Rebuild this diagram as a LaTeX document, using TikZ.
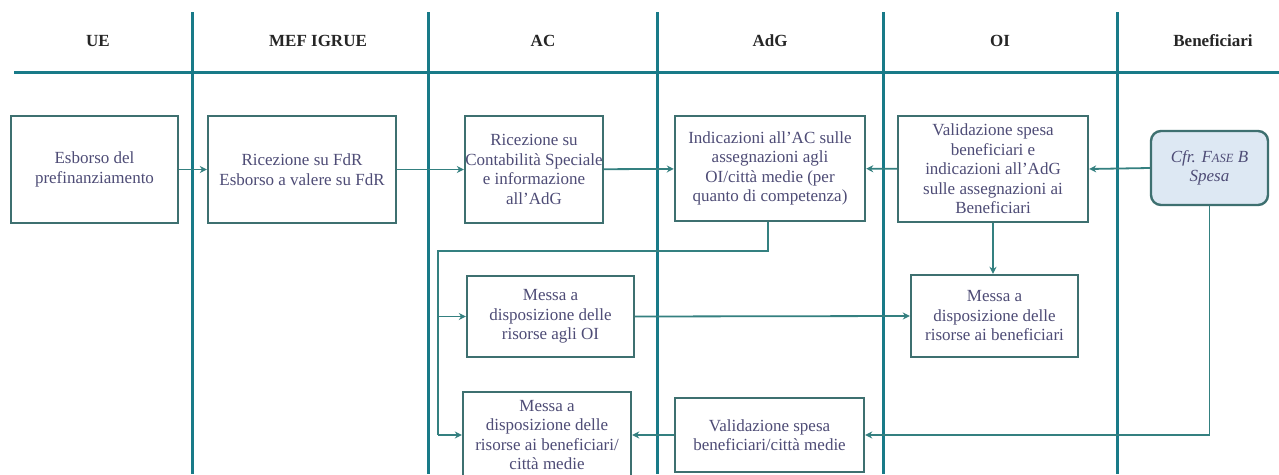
\documentclass[tikz,border=0pt]{standalone}
\usepackage{fontspec}
\setmainfont{LiberationSerif}[Extension=.ttf, UprightFont=*-Regular,
  BoldFont=*-Bold, ItalicFont=*-Italic, BoldItalicFont=*-BoldItalic]
\usetikzlibrary{arrows.meta}

\definecolor{lane}{RGB}{24,122,136}
\definecolor{boxline}{RGB}{62,112,112}
\definecolor{wire}{RGB}{52,128,128}
\definecolor{ink}{RGB}{78,76,118}
\definecolor{refill}{RGB}{221,232,243}

\tikzset{
  lanerule/.style={draw=lane, line width=3pt},
  lanehead/.style={font=\fontsize{17}{20}\selectfont\bfseries, text=black!85},
  task/.style={draw=boxline, line width=2.4pt, fill=white, text=ink,
    align=center, inner sep=0pt, font=\fontsize{17}{19.5}\selectfont},
  ref/.style={task, fill=refill, rounded corners=10pt},
  flow/.style={draw=wire, line width=1.8pt,
    -{Stealth[length=7pt,width=7pt]}},
  plain/.style={draw=wire, line width=1.8pt}
}

\begin{document}
\begin{tikzpicture}[x=1pt,y=-1pt]
\useasboundingbox (0,0) rectangle (1279,474);
\clip (0,0) rectangle (1279,474);
\fill[white] (0,0) rectangle (1279,474);

% swimlane headings and rules
\draw[lanerule] (14,72) -- (1279,72);
\foreach \lx in {192,428,657,883,1117}
  \draw[lanerule] (\lx,12) -- (\lx,474);

\node[lanehead] (hUE)  at (98,41)   {UE};
\node[lanehead] (hMEF) at (318,41)  {MEF IGRUE};
\node[lanehead] (hAC)  at (543,41)  {AC};
\node[lanehead] (hAdG) at (770,41)  {AdG};
\node[lanehead] (hOI)  at (1000,41) {OI};
\node[lanehead] (hBen) at (1213,41) {Beneficiari};

% activity boxes
\node[task, minimum width=167pt, minimum height=107pt] (esb) at (94.5,169.5)
  {Esborso del\\prefinanziamento};
\node[task, minimum width=188pt, minimum height=107pt] (fdr) at (302,169.5)
  {Ricezione su FdR\\Esborso a valere su FdR};
\node[task, minimum width=138pt, minimum height=107pt] (cs) at (534,169.5)
  {Ricezione su\\Contabilità Speciale\\e informazione\\all'AdG};
\node[task, minimum width=190pt, minimum height=105pt] (ind) at (770,168.5)
  {Indicazioni all'AC sulle\\assegnazioni agli\\OI/città medie (per\\quanto di competenza)};
\node[task, minimum width=190pt, minimum height=106pt] (val) at (993,169)
  {Validazione spesa\\beneficiari e\\indicazioni all'AdG\\sulle assegnazioni ai\\Beneficiari};
\node[ref, minimum width=117pt, minimum height=74pt] (fase) at (1209.5,168)
  {\itshape Cfr. F{\fontsize{12.5}{15}\selectfont ASE} B\\\itshape Spesa};
\node[task, minimum width=167pt, minimum height=81pt] (moi) at (550.5,316.5)
  {Messa a\\disposizione delle\\risorse agli OI};
\node[task, minimum width=167pt, minimum height=82pt] (mben) at (994.5,316)
  {Messa a\\disposizione delle\\risorse ai beneficiari};
\node[task, minimum width=168pt, minimum height=86pt] (mcm) at (547,435)
  {Messa a\\disposizione delle\\risorse ai beneficiari/\\città medie};
\node[task, minimum width=189pt, minimum height=74pt] (vcm) at (769.5,435)
  {Validazione spesa\\beneficiari/città medie};

% junction points of the routed connectors
\coordinate (drop) at ([xshift=-2pt]ind.south);
\coordinate (bus) at (438,251);
\coordinate (sp) at (fase.south);

% connectors
\draw[flow] (esb) -- (fdr);
\draw[flow] (fdr) -- (cs);
\draw[flow] (cs) -- (ind);
\draw[flow] (val) -- (ind);
\draw[flow] (fase.west) -- (val.east);
\draw[flow] (val.south) -- (mben.north -| val.south);
\draw[plain] (drop) |- (bus) -- (bus |- mcm.west);
\draw[flow] (bus |- moi.west) -- (moi.west);
\draw[flow] (bus |- mcm.west) -- (mcm.west);
\draw[flow] (moi.east) -- (mben.west);
\draw[flow] (sp) |- (vcm.east);
\draw[flow] (vcm.west) -- (mcm.east);
\end{tikzpicture}
\end{document}
